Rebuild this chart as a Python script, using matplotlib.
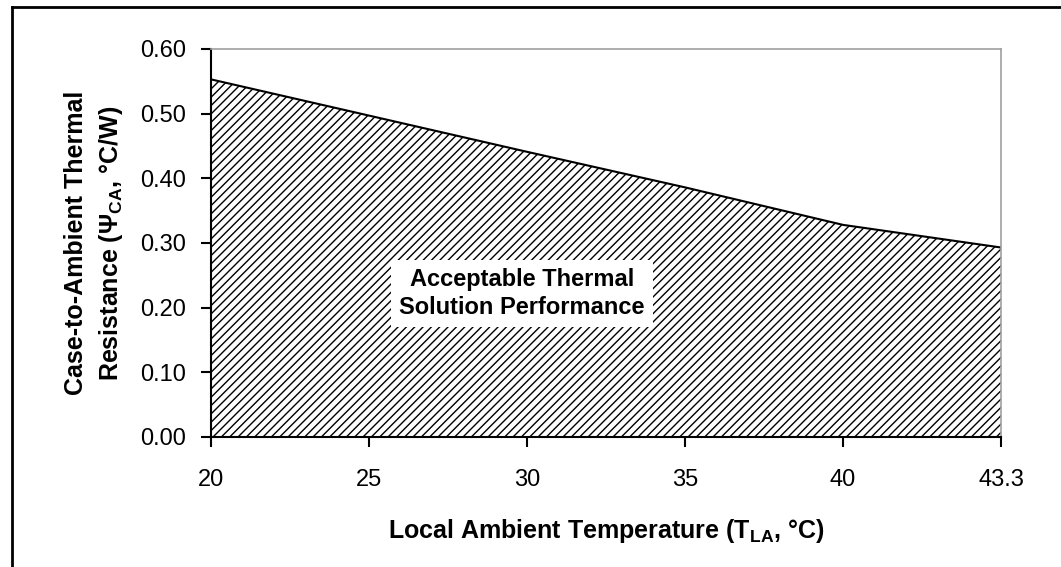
import matplotlib.pyplot as plt
from matplotlib.lines import Line2D

# Data (categories are equally spaced on the x axis)
temps = ["20", "25", "30", "35", "40", "43.3"]
psi_ca = [0.553, 0.497, 0.441, 0.386, 0.328, 0.293]
y_ticks = [0.0, 0.1, 0.2, 0.3, 0.4, 0.5, 0.6]

plt.rcParams['font.family'] = ['Liberation Sans', 'DejaVu Sans']
plt.rcParams['hatch.linewidth'] = 1.0

fig = plt.figure(figsize=(10.61, 5.67), dpi=100)
ax = fig.add_axes([0.1989, 0.2293, 0.7446, 0.6843])

x = list(range(len(temps)))
ax.fill_between(x, psi_ca, 0, facecolor="white", edgecolor="black",
                hatch="////", linewidth=0)
ax.plot(x, psi_ca, color="black", linewidth=1.5)

ax.set_xlim(0, len(temps) - 1)
ax.set_ylim(0, 0.6)
ax.set_xticks(x)
ax.set_xticklabels(temps)
ax.set_yticks(y_ticks)
ax.set_yticklabels([f"{v:.2f}" for v in y_ticks])
ax.tick_params(direction="out", length=7, width=1.5, labelsize=17)
ax.tick_params(axis="x", pad=16)
ax.tick_params(axis="y", pad=11)

for side in ["left", "bottom"]:
    ax.spines[side].set_color("black")
    ax.spines[side].set_linewidth(1.5)
for side in ["top", "right"]:
    ax.spines[side].set_color("#a0a0a0")
    ax.spines[side].set_linewidth(1.2)

ax.set_xlabel("Local Ambient Temperature (T$_{\\mathregular{LA}}$, °C)",
              fontsize=18, fontweight="bold", labelpad=19)
ax.set_ylabel("Case-to-Ambient Thermal\nResistance (Ψ$_{\\mathregular{CA}}$, °C/W)",
              fontsize=18, fontweight="bold", labelpad=11, linespacing=1.44)

ax.text(1.968, 0.222, "Acceptable Thermal\nSolution Performance",
        ha="center", va="center", fontsize=17, fontweight="bold",
        linespacing=1.27,
        bbox=dict(boxstyle="square,pad=0.35", facecolor="white", edgecolor="none"))

# Frame lines on the top and left edges of the picture
fig.add_artist(Line2D([12 / 1061, 1], [1 - 7 / 567, 1 - 7 / 567],
                      transform=fig.transFigure, color="black", linewidth=2))
fig.add_artist(Line2D([12 / 1061, 12 / 1061], [0, 1 - 7 / 567],
                      transform=fig.transFigure, color="black", linewidth=2))

fig.savefig("out.png", dpi=100)
plt.close(fig)
